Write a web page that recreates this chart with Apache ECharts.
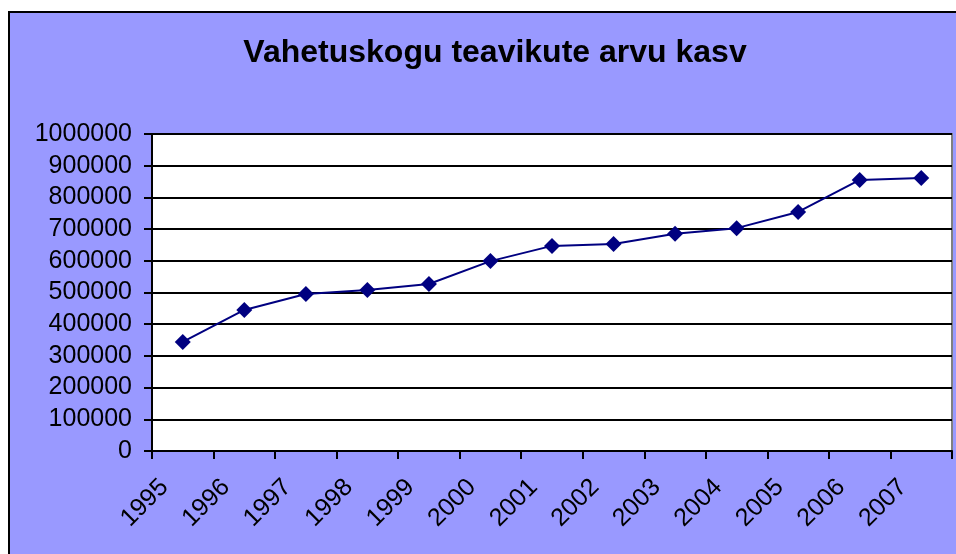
<!DOCTYPE html>
<html>
<head>
<meta charset="utf-8">
<script src="https://cdn.jsdelivr.net/npm/echarts@6/dist/echarts.min.js"></script>
<style>
  html, body { margin: 0; padding: 0; background: #fff; }
  #frame {
    position: absolute; left: 8px; top: 11px; width: 960px; height: 560px;
    border-left: 2px solid #000; border-top: 2px solid #000;
    background: #9999ff;
  }
  #chart { position: absolute; left: 0; top: 0; width: 956px; height: 554px; }
</style>
</head>
<body>
<div id="frame"></div>
<div id="chart"></div>
<script>
var years = ["1995", "1996", "1997", "1998", "1999", "2000", "2001",
             "2002", "2003", "2004", "2005", "2006", "2007"];
var items = [344000, 445000, 495000, 508000, 527000, 599000, 647000,
             653000, 685000, 703000, 754000, 855000, 861000];

var chart = echarts.init(document.getElementById("chart"));
var font = "Liberation Sans, Arial, sans-serif";

var option = {
  backgroundColor: "transparent",
  animation: false,
  title: {
    text: "Vahetuskogu teavikute arvu kasv",
    left: 490,
    top: 32,
    textAlign: "center",
    textStyle: {
      color: "#000",
      fontSize: 32,
      fontWeight: "bold",
      fontFamily: font
    }
  },
  grid: {
    left: 152,
    right: 4,
    top: 134,
    bottom: 103,
    show: true,
    backgroundColor: "#fff",
    borderColor: "#808080",
    borderWidth: 2
  },
  xAxis: {
    type: "category",
    data: years,
    boundaryGap: true,
    axisLine: { lineStyle: { color: "#000", width: 2 } },
    axisTick: { show: true, length: 8, inside: false, lineStyle: { color: "#000", width: 2 } },
    axisLabel: {
      rotate: 45,
      margin: 14,
      padding: [0, 26, 0, 0],
      color: "#000",
      fontSize: 25,
      fontFamily: font,
      interval: 0
    },
    splitLine: { show: false }
  },
  yAxis: {
    type: "value",
    min: 0,
    max: 1000000,
    interval: 100000,
    axisLine: { show: true, lineStyle: { color: "#000", width: 2 } },
    axisTick: { show: true, length: 8, lineStyle: { color: "#000", width: 2 } },
    axisLabel: {
      margin: 20,
      color: "#000",
      fontSize: 25,
      fontFamily: font,
      formatter: function (v) { return String(v); }
    },
    splitLine: { show: true, lineStyle: { color: "#000", width: 2 } }
  },
  series: [
    {
      name: "Teavikud",
      type: "line",
      data: items,
      symbol: "diamond",
      symbolSize: 16,
      lineStyle: { color: "#000080", width: 2 },
      itemStyle: { color: "#000080" }
    }
  ]
};
chart.setOption(option);
</script>
</body>
</html>
